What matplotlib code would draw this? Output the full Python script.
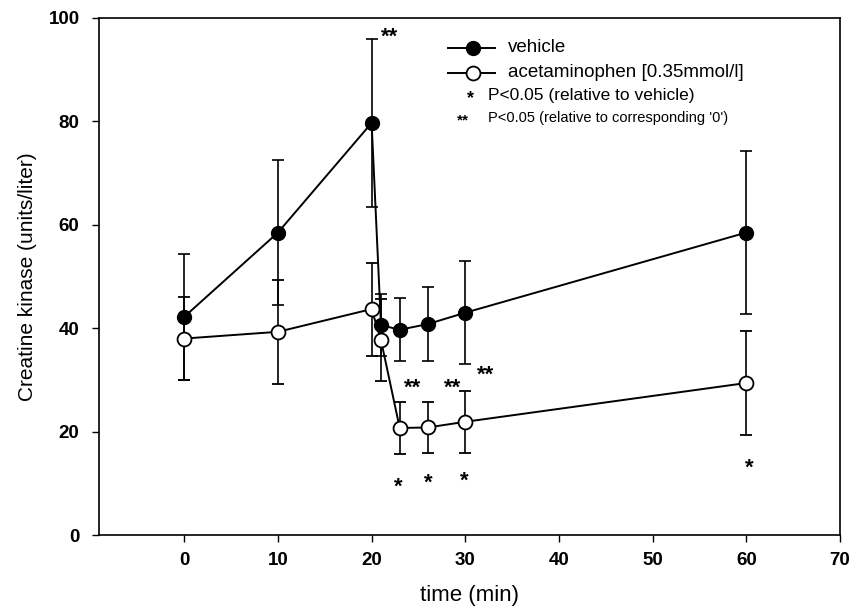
import matplotlib.pyplot as plt
import numpy as np

plt.rcParams['font.family'] = ['Liberation Sans', 'DejaVu Sans']

# data
t_veh = [0, 10, 20, 21, 23, 26, 30, 60]
veh = [42.2, 58.5, 79.7, 40.6, 39.7, 40.8, 43.0, 58.5]
veh_err = [12.2, 14.0, 16.2, 6.0, 6.1, 7.2, 10.0, 15.8]

t_ace = [0, 10, 20, 21, 23, 26, 30, 60]
ace = [38.0, 39.3, 43.7, 37.7, 20.7, 20.8, 21.9, 29.4]
ace_err = [8.0, 10.0, 9.0, 8.0, 5.0, 5.0, 6.0, 10.0]

# significance marks
star_x = [22.9, 26.0, 29.9, 60.3]
star_y = [9.3, 10.0, 10.4, 13.0]
dstar_x = [21.9, 24.4, 28.6, 32.2]
dstar_y = [96.2, 28.4, 28.4, 31.0]

fig = plt.figure(figsize=(8.58, 6.12), dpi=100)
ax = fig.add_axes([0.1154, 0.1258, 0.8636, 0.8448])

ax.errorbar(t_veh, veh, yerr=veh_err, fmt='o-', color='black', mfc='black',
            mec='black', ms=10, lw=1.4, elinewidth=1.2, capsize=4, capthick=1.2,
            zorder=3)
ax.errorbar(t_ace, ace, yerr=ace_err, fmt='o-', color='black', mfc='white',
            mec='black', mew=1.3, ms=10, lw=1.4, elinewidth=1.2, capsize=4,
            capthick=1.2, zorder=4)

for x, y in zip(star_x, star_y):
    ax.text(x, y, '*', ha='center', va='center', fontsize=16, fontweight='bold')
for x, y in zip(dstar_x, dstar_y):
    ax.text(x, y, '**', ha='center', va='center', fontsize=16, fontweight='bold')

# hand-made legend
lx0, lx1, lxm = 0.471, 0.534, 0.505
ly = [0.942, 0.894]
tr = ax.transAxes
ax.plot([lx0, lx1], [ly[0], ly[0]], '-', color='black', lw=1.4, transform=tr, clip_on=False)
ax.plot([lxm], [ly[0]], 'o', color='black', ms=10, transform=tr, clip_on=False)
ax.plot([lx0, lx1], [ly[1], ly[1]], '-', color='black', lw=1.4, transform=tr, clip_on=False)
ax.plot([lxm], [ly[1]], 'o', color='black', mfc='white', mew=1.3, ms=10,
        transform=tr, clip_on=False)
ax.text(0.552, ly[0], 'vehicle', transform=tr, va='center', fontsize=13.5)
ax.text(0.552, ly[1], 'acetaminophen [0.35mmol/l]', transform=tr, va='center', fontsize=13.5)
ax.text(0.501, 0.845, '*', transform=tr, ha='center', va='center', fontsize=13, fontweight='bold')
ax.text(0.525, 0.851, 'P<0.05 (relative to vehicle)', transform=tr, va='center', fontsize=12.5)
ax.text(0.491, 0.802, '**', transform=tr, ha='center', va='center', fontsize=11, fontweight='bold')
ax.text(0.525, 0.807, "P<0.05 (relative to corresponding '0')", transform=tr,
        va='center', fontsize=10.5)

ax.set_xlim(-9.1, 70)
ax.set_ylim(0, 100)
ax.set_xticks(np.arange(0, 71, 10))
ax.set_yticks(np.arange(0, 101, 20))
ax.tick_params(direction='out', length=5, width=1, labelsize=13.5)
ax.tick_params(axis='x', pad=7)
ax.tick_params(axis='y', pad=9)
for lab in ax.get_xticklabels() + ax.get_yticklabels():
    lab.set_fontweight('bold')
for s in ax.spines.values():
    s.set_linewidth(1.2)

ax.set_xlabel('time (min)', fontsize=16, labelpad=12)
ax.set_ylabel('Creatine kinase (units/liter)', fontsize=15, labelpad=8)

fig.savefig('out.png', dpi=100)
